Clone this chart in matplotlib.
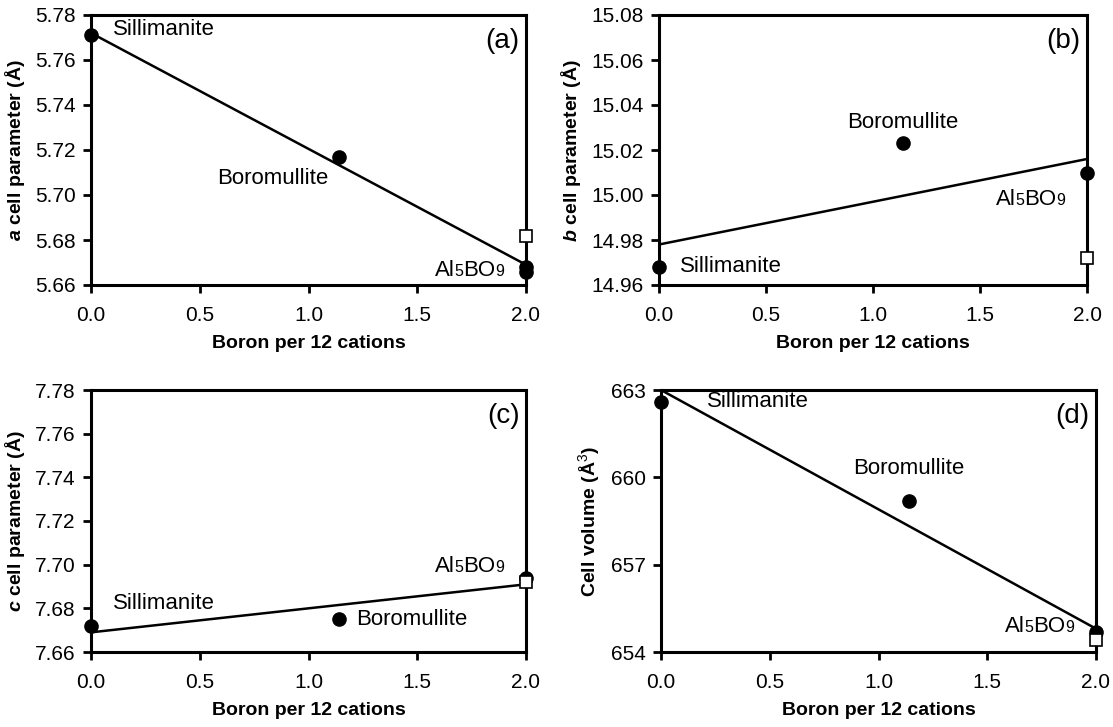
import matplotlib
matplotlib.use("Agg")
import matplotlib.pyplot as plt
from matplotlib.transforms import offset_copy
from matplotlib.ticker import FormatStrFormatter, MultipleLocator

plt.rcParams['font.family'] = ['Liberation Sans', 'DejaVu Sans']
plt.rcParams['mathtext.fontset'] = 'custom'
plt.rcParams['mathtext.rm'] = 'Liberation Sans'
plt.rcParams['mathtext.it'] = 'Liberation Sans:italic'
plt.rcParams['mathtext.bf'] = 'Liberation Sans:bold'
plt.rcParams['mathtext.bfit'] = 'Liberation Sans:bold:italic'

# boron content per 12 cations
boron = [0.0, 1.14, 2.0]
names = ["Sillimanite", "Boromullite", "Al5BO9"]

# measured values (filled circles)
a_vals = [5.771, 5.717, 5.668]
b_vals = [14.968, 15.023, 15.010]
c_vals = [7.672, 7.675, 7.694]
v_vals = [662.6, 659.2, 654.7]
a_extra = [5.666]  # second Al5BO9 point in (a)

# open squares at B = 2
sq_x = [2.0]
a_sq = [5.682]
b_sq = [14.972]
c_sq = [7.692]
v_sq = [654.4]

# trend line end points
line_x = [0.0, 2.0]
a_line = [5.772, 5.669]
b_line = [14.978, 15.016]
c_line = [7.669, 7.691]
v_line = [663.0, 654.8]

LABEL_FS = 16

fig = plt.figure(figsize=(11.13, 7.27), dpi=100)
W, H = 1113, 727
renderer = fig.canvas.get_renderer()


def make_ax(l, t, r, b):
    return fig.add_axes([l / W, 1 - b / H, (r - l) / W, (b - t) / H])


ax_a = make_ax(91, 15, 526, 285)
ax_b = make_ax(659, 15, 1087, 285)
ax_c = make_ax(91, 390, 526, 652)
ax_d = make_ax(661, 390, 1096, 652)


def al5bo9(ax, x, y):
    # "Al5BO9" with small digits on the baseline, right edge at x
    pieces = [("Al", LABEL_FS), ("5", LABEL_FS * 0.72), ("BO", LABEL_FS), ("9", LABEL_FS * 0.72)]
    texts = []
    for s, fs in pieces:
        t = ax.text(x, y, s, fontsize=fs, va="baseline", ha="left")
        texts.append(t)
    widths = [t.get_window_extent(renderer).width * 72 / fig.dpi for t in texts]
    total = sum(widths)
    off = -total
    for t, w in zip(texts, widths):
        t.set_transform(offset_copy(ax.transData, fig=fig, x=off, y=-LABEL_FS * 0.36, units="points"))
        off += w


def style(ax, ylim, step, fmt, ylabel, tag):
    ax.set_xlim(0, 2.0)
    ax.set_ylim(*ylim)
    ax.xaxis.set_major_locator(MultipleLocator(0.5))
    ax.yaxis.set_major_locator(MultipleLocator(step))
    ax.xaxis.set_major_formatter(FormatStrFormatter("%.1f"))
    ax.yaxis.set_major_formatter(FormatStrFormatter(fmt))
    ax.tick_params(direction="out", length=6, width=2, labelsize=15, pad=5)
    ax.tick_params(axis="x", pad=9)
    for s in ax.spines.values():
        s.set_linewidth(2.2)
    ax.set_xlabel("Boron per 12 cations", fontsize=14, fontweight="bold", labelpad=7)
    ax.set_ylabel(ylabel, fontsize=14, fontweight="bold", labelpad=6)
    ax.text(0.985, 0.95, tag, transform=ax.transAxes, ha="right", va="top", fontsize=20)


def points(ax, vals, sq, line, extra=None):
    ax.plot(line_x, line, color="black", lw=1.8, solid_capstyle="butt")
    ax.plot(boron, vals, "o", color="black", ms=9.5, clip_on=False, zorder=5)
    if extra:
        ax.plot([2.0] * len(extra), extra, "o", color="black", ms=9.5, clip_on=False, zorder=5)
    ax.plot(sq_x, sq, "s", mfc="white", mec="black", mew=1.2, ms=9, clip_on=False, zorder=6)


# (a)
points(ax_a, a_vals, a_sq, a_line, a_extra)
style(ax_a, (5.66, 5.78), 0.02, "%.2f", r"$\mathbfit{a}$ cell parameter (Å)", "(a)")
ax_a.text(0.1, 5.7735, names[0], fontsize=LABEL_FS, va="center")
ax_a.text(0.58, 5.7075, names[1], fontsize=LABEL_FS, va="center")
al5bo9(ax_a, 1.9, 5.6675)

# (b)
points(ax_b, b_vals, b_sq, b_line)
style(ax_b, (14.96, 15.08), 0.02, "%.2f", r"$\mathbfit{b}$ cell parameter (Å)", "(b)")
ax_b.text(0.1, 14.968, names[0], fontsize=LABEL_FS, va="center")
ax_b.text(1.14, 15.032, names[1], fontsize=LABEL_FS, va="center", ha="center")
al5bo9(ax_b, 1.9, 14.999)

# (c)
points(ax_c, c_vals, c_sq, c_line)
style(ax_c, (7.66, 7.78), 0.02, "%.2f", r"$\mathbfit{c}$ cell parameter (Å)", "(c)")
ax_c.text(0.1, 7.682, names[0], fontsize=LABEL_FS, va="center")
ax_c.text(1.22, 7.675, names[1], fontsize=LABEL_FS, va="center")
al5bo9(ax_c, 1.9, 7.7005)

# (d)
points(ax_d, v_vals, v_sq, v_line)
style(ax_d, (654, 663), 3, "%d", r"Cell volume (Å$^3$)", "(d)")
ax_d.text(0.21, 662.6, names[0], fontsize=LABEL_FS, va="center")
ax_d.text(1.14, 660.3, names[1], fontsize=LABEL_FS, va="center", ha="center")
al5bo9(ax_d, 1.9, 654.95)

fig.savefig("out.png", dpi=100)
